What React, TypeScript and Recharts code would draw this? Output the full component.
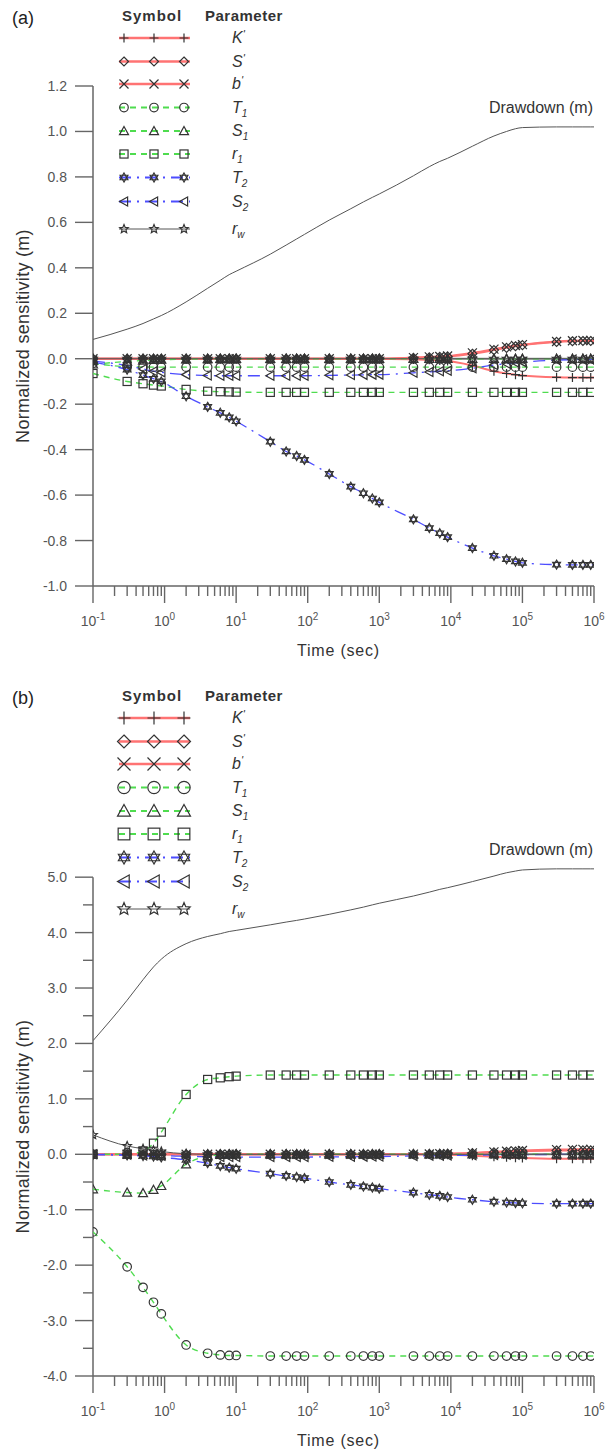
import React from 'react';
import { LineChart, Line, XAxis, YAxis, ReferenceLine, ReferenceDot, Legend } from 'recharts';

const FONT = '"Liberation Sans", Arial, Helvetica, sans-serif';
const AXIS = '#666';
const RED = '#ff7373';
const GREEN = '#4fdc4f';
const BLUE = '#4d4dff';
const BLACK = '#555';

// sampling times (sec); last entry only carries the curves to the axis end
const times = [0.1, 0.3, 0.5, 0.7, 0.9, 2, 4, 6, 8, 10, 30, 50, 70, 90, 200, 400, 600, 800, 1000,
  3000, 5000, 7000, 9000, 20000, 40000, 60000, 80000, 100000, 300000, 500000, 700000, 900000, 1000000];

// ---- panel (a) ----
const drawdownA = [0.085, 0.13, 0.155, 0.175, 0.19, 0.25, 0.31, 0.345, 0.37, 0.385, 0.46, 0.5, 0.527, 0.547,
  0.61, 0.66, 0.69, 0.71, 0.725, 0.805, 0.845, 0.868, 0.882, 0.935, 0.98, 1.0, 1.012, 1.017, 1.02, 1.02, 1.02, 1.02, 1.02];
const kPrimeA = [0, 0, 0, 0, 0, 0, 0, 0, 0, 0, 0, 0, 0, 0, 0, 0, 0, 0, 0,
  -0.003, -0.005, -0.008, -0.01, -0.03, -0.055, -0.065, -0.07, -0.074, -0.082, -0.083, -0.083, -0.083, -0.083];
const sPrimeA = [0, 0, 0, 0, 0, 0, 0, 0, 0, 0, 0, 0, 0, 0, 0, 0, 0, 0, 0,
  0.004, 0.006, 0.008, 0.01, 0.022, 0.038, 0.048, 0.055, 0.06, 0.074, 0.077, 0.078, 0.078, 0.078];
const bPrimeA = [0, 0, 0, 0, 0, 0, 0, 0, 0, 0, 0, 0, 0, 0, 0, 0, 0, 0, 0,
  0.005, 0.008, 0.01, 0.012, 0.026, 0.042, 0.052, 0.058, 0.062, 0.076, 0.079, 0.08, 0.08, 0.08];
const t1A = [-0.02, -0.035, -0.036, -0.037, -0.037, -0.037, -0.037, -0.037, -0.037, -0.037, -0.037, -0.037, -0.037, -0.037,
  -0.037, -0.037, -0.037, -0.037, -0.037, -0.037, -0.037, -0.037, -0.037, -0.037, -0.037, -0.037, -0.037, -0.037,
  -0.037, -0.037, -0.037, -0.037, -0.037];
const s1A = [-0.025, -0.012, -0.008, -0.005, -0.004, -0.002, -0.001, 0, 0, 0, 0, 0, 0, 0, 0, 0, 0, 0, 0,
  0, 0, 0, 0, 0, 0, 0, 0, 0, 0, 0, 0, 0, 0];
const r1A = [-0.065, -0.1, -0.11, -0.116, -0.12, -0.135, -0.143, -0.145, -0.146, -0.147, -0.148, -0.148, -0.148, -0.148,
  -0.148, -0.148, -0.148, -0.148, -0.148, -0.148, -0.148, -0.148, -0.148, -0.148, -0.148, -0.148, -0.148, -0.148,
  -0.148, -0.148, -0.148, -0.148, -0.148];
const t2A = [-0.015, -0.048, -0.072, -0.088, -0.1, -0.165, -0.212, -0.238, -0.258, -0.275, -0.365, -0.408, -0.428, -0.445,
  -0.507, -0.563, -0.592, -0.615, -0.632, -0.707, -0.745, -0.768, -0.785, -0.833, -0.867, -0.882, -0.892, -0.898,
  -0.906, -0.907, -0.907, -0.907, -0.907];
const s2A = [-0.01, -0.03, -0.045, -0.055, -0.06, -0.07, -0.074, -0.075, -0.075, -0.075, -0.075, -0.075, -0.075, -0.075,
  -0.073, -0.072, -0.071, -0.07, -0.07, -0.062, -0.058, -0.055, -0.053, -0.042, -0.028, -0.022, -0.018, -0.015,
  -0.006, -0.004, -0.003, -0.003, -0.003];
const rwA = [0, 0, 0, 0, 0, 0, 0, 0, 0, 0, 0, 0, 0, 0, 0, 0, 0, 0, 0, 0, 0, 0, 0, 0, 0, 0, 0, 0, 0, 0, 0, 0, 0];

// ---- panel (b) ----
const drawdownB = [2.05, 2.78, 3.15, 3.38, 3.52, 3.8, 3.93, 3.98, 4.02, 4.04, 4.14, 4.19, 4.22, 4.245, 4.33, 4.41, 4.46,
  4.5, 4.53, 4.66, 4.73, 4.78, 4.81, 4.92, 5.02, 5.08, 5.11, 5.13, 5.15, 5.15, 5.15, 5.15, 5.15];
const kPrimeB = [0, 0, 0, 0, 0, 0, 0, 0, 0, 0, 0, 0, 0, 0, 0, 0, 0, 0, 0, 0,
  -0.005, -0.008, -0.01, -0.025, -0.045, -0.055, -0.062, -0.066, -0.08, -0.082, -0.082, -0.082, -0.082];
const sPrimeB = [0, 0, 0, 0, 0, 0, 0, 0, 0, 0, 0, 0, 0, 0, 0, 0, 0, 0, 0,
  0.003, 0.005, 0.007, 0.009, 0.02, 0.035, 0.045, 0.05, 0.055, 0.068, 0.07, 0.07, 0.07, 0.07];
const bPrimeB = [0, 0, 0, 0, 0, 0, 0, 0, 0, 0, 0, 0, 0, 0, 0, 0, 0, 0, 0,
  0.004, 0.006, 0.009, 0.011, 0.025, 0.045, 0.055, 0.062, 0.068, 0.085, 0.088, 0.09, 0.09, 0.09];
const t1B = [-1.4, -2.03, -2.4, -2.67, -2.88, -3.44, -3.59, -3.62, -3.63, -3.63, -3.64, -3.64, -3.64, -3.64, -3.64,
  -3.64, -3.64, -3.64, -3.64, -3.64, -3.64, -3.64, -3.64, -3.64, -3.64, -3.64, -3.64, -3.64, -3.64, -3.64, -3.64,
  -3.64, -3.64];
const s1B = [-0.63, -0.69, -0.7, -0.64, -0.57, -0.18, -0.03, -0.01, -0.005, 0, 0, 0, 0, 0, 0, 0, 0, 0, 0,
  0, 0, 0, 0, 0, 0, 0, 0, 0, 0, 0, 0, 0, 0];
const r1B = [0, 0, 0.06, 0.2, 0.4, 1.08, 1.35, 1.38, 1.4, 1.41, 1.43, 1.43, 1.43, 1.43, 1.43, 1.43, 1.43, 1.43, 1.43,
  1.43, 1.43, 1.43, 1.43, 1.43, 1.43, 1.43, 1.43, 1.43, 1.43, 1.43, 1.43, 1.43, 1.43];
const t2B = [-0.005, -0.02, -0.03, -0.04, -0.055, -0.1, -0.16, -0.21, -0.24, -0.26, -0.35, -0.39, -0.41, -0.43, -0.5,
  -0.55, -0.58, -0.6, -0.62, -0.69, -0.73, -0.75, -0.77, -0.82, -0.855, -0.87, -0.878, -0.883, -0.89, -0.89, -0.89,
  -0.89, -0.89];
const s2B = [0, -0.01, -0.02, -0.02, -0.025, -0.035, -0.045, -0.05, -0.05, -0.05, -0.05, -0.05, -0.05, -0.05, -0.045,
  -0.045, -0.042, -0.04, -0.04, -0.03, -0.028, -0.025, -0.023, -0.018, -0.012, -0.01, -0.008, -0.007, -0.003, -0.002,
  -0.002, -0.002, -0.002];
const rwB = [0.35, 0.15, 0.1, 0.07, 0.05, 0.01, 0, 0, 0, 0, 0, 0, 0, 0, 0, 0, 0, 0, 0, 0, 0, 0, 0, 0, 0, 0, 0, 0,
  0, 0, 0, 0, 0];

// axis ticks
const xTicks = [0.1, 0.2, 0.3, 0.4, 0.5, 0.6, 0.7, 0.8, 0.9, 1, 2, 3, 4, 5, 6, 7, 8, 9, 10, 20, 30, 40, 50, 60, 70, 80, 90,
  100, 200, 300, 400, 500, 600, 700, 800, 900, 1000, 2000, 3000, 4000, 5000, 6000, 7000, 8000, 9000,
  10000, 20000, 30000, 40000, 50000, 60000, 70000, 80000, 90000, 100000, 200000, 300000, 400000, 500000,
  600000, 700000, 800000, 900000, 1000000];
const yTicksA = [-1.0, -0.8, -0.6, -0.4, -0.2, 0.0, 0.2, 0.4, 0.6, 0.8, 1.0, 1.2];
const yTicksB = [-4, -3.5, -3, -2.5, -2, -1.5, -1, -0.5, 0, 0.5, 1, 1.5, 2, 2.5, 3, 3.5, 4, 4.5, 5];

// legend / series styling
type Kind = 'plus' | 'diamond' | 'cross' | 'circle' | 'triangle' | 'square' | 'hexagram' | 'triLeft' | 'star';
const series: { key: string; kind: Kind; color: string; width: number; dash?: string; name: string; sub?: string; prime?: boolean }[] = [
  { key: 'k', kind: 'plus', color: RED, width: 2, name: 'K', prime: true },
  { key: 's', kind: 'diamond', color: RED, width: 2, name: 'S', prime: true },
  { key: 'b', kind: 'cross', color: RED, width: 2, name: 'b', prime: true },
  { key: 't1', kind: 'circle', color: GREEN, width: 1.4, dash: '6 5', name: 'T', sub: '1' },
  { key: 's1', kind: 'triangle', color: GREEN, width: 1.4, dash: '6 5', name: 'S', sub: '1' },
  { key: 'r1', kind: 'square', color: GREEN, width: 1.4, dash: '6 5', name: 'r', sub: '1' },
  { key: 't2', kind: 'hexagram', color: BLUE, width: 1.3, dash: '12 6 2 6', name: 'T', sub: '2' },
  { key: 's2', kind: 'triLeft', color: BLUE, width: 1.3, dash: '12 6 2 6', name: 'S', sub: '2' },
  { key: 'rw', kind: 'star', color: BLACK, width: 1, name: 'r', sub: 'w' },
];
const legendRowY = [38, 61.5, 84, 107.5, 131, 154, 177.5, 201.5, 229];
const legendMarkX = [124, 154, 184];

function buildTable(cols: Record<string, number[]>) {
  return times.map((t, i) => {
    const row: Record<string, number> = { t };
    Object.keys(cols).forEach((k) => { row[k] = cols[k][i]; });
    return row;
  });
}

const tableA = buildTable({ dd: drawdownA, k: kPrimeA, s: sPrimeA, b: bPrimeA, t1: t1A, s1: s1A, r1: r1A, t2: t2A, s2: s2A, rw: rwA });
const tableB = buildTable({ dd: drawdownB, k: kPrimeB, s: sPrimeB, b: bPrimeB, t1: t1B, s1: s1B, r1: r1B, t2: t2B, s2: s2B, rw: rwB });

function Marker({ kind, cx, cy, s }: { kind: Kind; cx: number; cy: number; s: number }) {
  const h = s / 2;
  const st = { fill: 'none', stroke: '#333', strokeWidth: 1.2 };
  switch (kind) {
    case 'plus':
      return <path d={`M${cx - h},${cy}H${cx + h}M${cx},${cy - h}V${cy + h}`} {...st} />;
    case 'cross':
      return <path d={`M${cx - h},${cy - h}L${cx + h},${cy + h}M${cx - h},${cy + h}L${cx + h},${cy - h}`} {...st} />;
    case 'diamond':
      return <path d={`M${cx},${cy - h}L${cx + h},${cy}L${cx},${cy + h}L${cx - h},${cy}Z`} {...st} />;
    case 'circle':
      return <circle cx={cx} cy={cy} r={h * 0.95} {...st} />;
    case 'triangle':
      return <path d={`M${cx},${cy - h}L${cx + h},${cy + h * 0.8}L${cx - h},${cy + h * 0.8}Z`} {...st} />;
    case 'square':
      return <rect x={cx - h * 0.9} y={cy - h * 0.9} width={h * 1.8} height={h * 1.8} {...st} />;
    case 'triLeft':
      return <path d={`M${cx - h},${cy}L${cx + h * 0.8},${cy - h}L${cx + h * 0.8},${cy + h}Z`} {...st} />;
    case 'hexagram': {
      const tri = (a0: number) => [0, 1, 2].map((i) => {
        const a = ((a0 + i * 120) * Math.PI) / 180;
        return `${cx + h * Math.cos(a)},${cy + h * Math.sin(a)}`;
      }).join(' ');
      return (
        <g>
          <polygon points={tri(-90)} {...st} />
          <polygon points={tri(90)} {...st} />
        </g>
      );
    }
    case 'star': {
      const pts = Array.from({ length: 10 }, (_, i) => {
        const r = i % 2 === 0 ? h : h * 0.45;
        const a = ((-90 + i * 36) * Math.PI) / 180;
        return `${cx + r * Math.cos(a)},${cy + r * Math.sin(a)}`;
      }).join(' ');
      return <polygon points={pts} {...st} />;
    }
    default:
      return null;
  }
}

function XTick(props: any) {
  const { x, y, payload } = props;
  const lg = Math.log10(payload.value);
  const major = Math.abs(lg - Math.round(lg)) < 1e-6;
  return (
    <g>
      <line x1={x} x2={x} y1={y} y2={y + (major ? 17 : 10)} stroke={AXIS} strokeWidth={1.4} />
      {major && (
        <text x={x} y={y + 40} textAnchor="middle" fontFamily={FONT} fontSize={14} fill="#555">
          10<tspan dy={-6} fontSize={10}>{Math.round(lg)}</tspan>
        </text>
      )}
    </g>
  );
}

function makeYTick(labelled: (v: number) => boolean) {
  return (props: any) => {
    const { x, y, payload } = props;
    const v = payload.value as number;
    const major = labelled(v);
    return (
      <g>
        <line x1={x - (major ? 18 : 10)} x2={x} y1={y} y2={y} stroke={AXIS} strokeWidth={1.4} />
        {major && (
          <text x={x - 26} y={y} dy="0.36em" textAnchor="end" fontFamily={FONT} fontSize={14} fill="#555">
            {v.toFixed(1)}
          </text>
        )}
      </g>
    );
  };
}

function LegendBox({ panel, big }: { panel: string; big: boolean }) {
  const s = big ? 13 : 9;
  return (
    <svg width={610} height={240} style={{ display: 'block', overflow: 'visible' }}>
      <text x={12} y={24} fontFamily={FONT} fontSize={18} fill="#222">{panel}</text>
      <text x={122} y={21} fontFamily={FONT} fontSize={15} fontWeight="bold" letterSpacing={1} fill="#333">Symbol</text>
      <text x={205} y={21} fontFamily={FONT} fontSize={15} fontWeight="bold" letterSpacing={0.5} fill="#333">Parameter</text>
      {series.map((sr, i) => {
        const y = legendRowY[i];
        return (
          <g key={sr.key}>
            <line x1={119} x2={190} y1={y} y2={y} stroke={sr.color} strokeWidth={sr.key === 'rw' ? 1 : sr.width + 0.6} strokeDasharray={sr.dash} />
            {legendMarkX.map((mx) => <Marker key={mx} kind={sr.kind} cx={mx} cy={y} s={s} />)}
            <text x={232} y={y + 5} fontFamily={FONT} fontSize={16} fontStyle="italic" fill="#333">
              {sr.name}
              {sr.prime && <tspan fontSize={11} dy={-5}>'</tspan>}
              {sr.sub && <tspan fontSize={10} dy={4}>{sr.sub}</tspan>}
            </text>
          </g>
        );
      })}
    </svg>
  );
}

function Panel({ data, panel, big, height, top, yDomain, yTop, yTicks, labelled, drawdownEnd }: {
  data: Record<string, number>[]; panel: string; big: boolean; height: number; top: number;
  yDomain: [number, number]; yTop: number; yTicks: number[]; labelled: (v: number) => boolean; drawdownEnd: number;
}) {
  const yTick = makeYTick(labelled);
  return (
    <LineChart width={610} height={height} data={data} margin={{ top, right: 16, bottom: 0, left: 0 }}>
      <Legend
        layout="horizontal"
        verticalAlign="middle"
        align="center"
        wrapperStyle={{ left: 0, top: big ? 20 : 0, width: 610, height: 240 }}
        content={() => <LegendBox panel={panel} big={big} />}
      />
      <XAxis
        dataKey="t"
        type="number"
        scale="log"
        domain={[0.1, 1000000]}
        ticks={xTicks}
        interval={0}
        allowDataOverflow
        tickLine={false}
        tickSize={0}
        tickMargin={0}
        height={74}
        axisLine={{ stroke: AXIS, strokeWidth: 1.5 }}
        tick={(p: any) => <XTick {...p} />}
        label={(p: any) => {
          const vb = p.viewBox;
          return (
            <text x={vb.x + vb.width / 2 - 5} y={vb.y + 70} textAnchor="middle" fontFamily={FONT} fontSize={16} letterSpacing={0.8} fill="#333">
              Time (sec)
            </text>
          );
        }}
      />
      <YAxis
        type="number"
        domain={yDomain}
        ticks={yTicks}
        interval={0}
        allowDataOverflow
        width={93}
        tickLine={false}
        tickSize={0}
        tickMargin={0}
        axisLine={false}
        tick={yTick}
        label={(p: any) => {
          const vb = p.viewBox;
          const cx = 23;
          const cy = vb.y + vb.height / 2 + (yDomain[1] - yTop) * 0 + (big ? 11 : 0);
          return (
            <text x={cx} y={cy} transform={`rotate(-90 ${cx} ${cy})`} textAnchor="middle" dominantBaseline="central" fontFamily={FONT} fontSize={18} letterSpacing={0.3} fill="#333">
              Normalized sensitivity (m)
            </text>
          );
        }}
      />
      <ReferenceLine segment={[{ x: 0.1, y: yDomain[0] }, { x: 0.1, y: yTop }]} stroke={AXIS} strokeWidth={1.5} />
      <ReferenceLine y={0} stroke="#8c8c8c" strokeWidth={2} />
      <Line dataKey="dd" type="monotone" stroke="#555" strokeWidth={1} dot={false} activeDot={false} isAnimationActive={false} />
      {series.map((sr) => (
        <Line
          key={sr.key}
          dataKey={sr.key}
          type="monotone"
          stroke={sr.color}
          strokeWidth={sr.width}
          strokeDasharray={sr.dash}
          activeDot={false}
          isAnimationActive={false}
          dot={(p: any) =>
            p.payload.t > 950000 ? <g key={`${sr.key}-${p.index}`} /> : (
              <g key={`${sr.key}-${p.index}`}><Marker kind={sr.kind} cx={p.cx} cy={p.cy} s={9} /></g>
            )
          }
        />
      ))}
      <ReferenceDot
        x={1000000}
        y={drawdownEnd}
        r={0}
        fill="none"
        stroke="none"
        label={(p: any) => (
          <text x={p.viewBox.x - 1} y={p.viewBox.y - 14} textAnchor="end" fontFamily={FONT} fontSize={16} fill="#333">
            Drawdown (m)
          </text>
        )}
      />
    </LineChart>
  );
}

export default function App() {
  return (
    <div style={{ position: 'absolute', left: 0, top: 0, width: 610, height: 1450, background: '#fff' }}>
      <div style={{ position: 'absolute', left: 0, top: 0 }}>
        <Panel data={tableA} panel="(a)" big={false} height={660} top={86} yDomain={[-1, 1.2]} yTop={1.2} yTicks={yTicksA}
          labelled={() => true} drawdownEnd={drawdownA[drawdownA.length - 1]} />
      </div>
      <div style={{ position: 'absolute', left: 0, top: 660 }}>
        <Panel data={tableB} panel="(b)" big height={790} top={195} yDomain={[-4, 5.4]} yTop={5} yTicks={yTicksB}
          labelled={(v) => Number.isInteger(v)} drawdownEnd={drawdownB[drawdownB.length - 1]} />
      </div>
    </div>
  );
}
